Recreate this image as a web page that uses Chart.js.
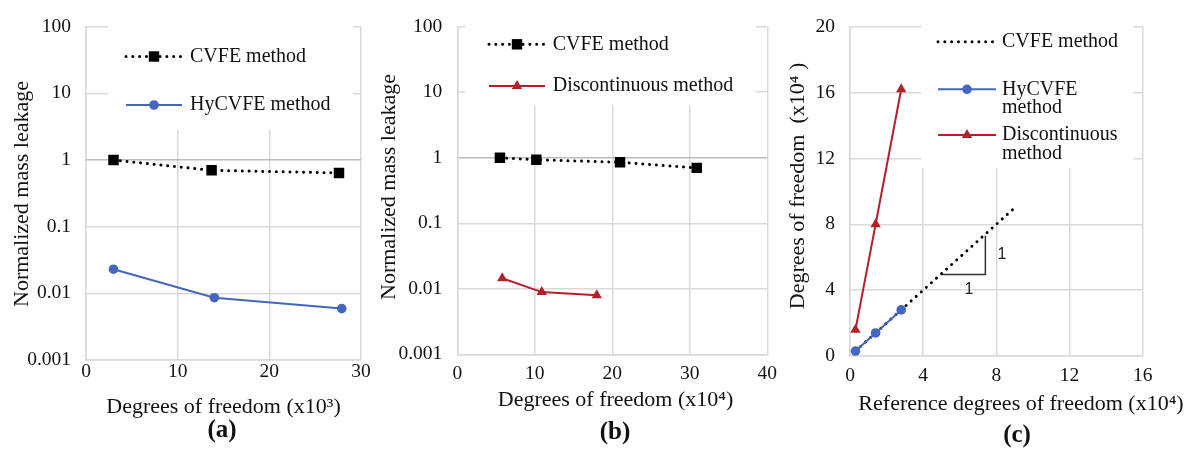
<!DOCTYPE html>
<html>
<head>
<meta charset="utf-8">
<script src="https://cdn.jsdelivr.net/npm/chart.js@4.4.1/dist/chart.umd.min.js"></script>
<style>
  html, body { margin: 0; padding: 0; background: #fff; }
  #wrap { position: relative; width: 1198px; height: 454px; overflow: hidden; }
  canvas { position: absolute; top: 0; }
</style>
</head>
<body>
<div id="wrap">
  <canvas id="chartA" width="372" height="454" style="left:0px"></canvas>
  <canvas id="chartB" width="413" height="454" style="left:372px"></canvas>
  <canvas id="chartC" width="413" height="454" style="left:785px"></canvas>
</div>
<script>
// (a) mass leakage vs dof (x10^3)
const dofCvfeA = [3, 13.7, 27.6];
const cvfeA = [1.0, 0.70, 0.64];
const dofHyA = [3, 14, 27.9];
const hycvfeA = [0.023, 0.0086, 0.0059];

// (b) mass leakage vs dof (x10^4)
const dofCvfeB = [5.5, 10.2, 21, 30.9];
const cvfeB = [1.0, 0.93, 0.855, 0.70];
const dofDiscB = [5.8, 10.9, 18];
const discB = [0.0145, 0.0089, 0.008];

// (c) dof vs reference dof (x10^4)
const refDofC = [0.3, 1.4, 2.8];
const hycvfeC = [0.3, 1.4, 2.8];
const discC = [1.6, 8.0, 16.2];
const refCvfeC = [0.3, 8.9];
const cvfeC = [0.3, 8.9];
const slopeX = [5.0, 7.4, 7.4];
const slopeY = [4.95, 4.95, 7.3];

const logTicks = [0.001, 0.01, 0.1, 1, 10, 100];
const logTickLabels = ['0.001', '0.01', '0.1', '1', '10', '100'];

const GRID = '#d9d9d9';
const BLUE = '#4466c0';
const RED = '#b3202a';
const TXT = '#111';
const SERIF = '"Liberation Serif", "Times New Roman", serif';

Chart.defaults.font.family = SERIF;
Chart.defaults.font.size = 19.5;
Chart.defaults.color = TXT;

const pts = (xs, ys) => xs.map((x, i) => ({ x: x, y: ys[i] }));

const dotted = { borderColor: '#000', borderWidth: 3, borderDash: [0.01, 6.8], borderCapStyle: 'round' };
const squares = { pointStyle: 'rect', pointRadius: 7.4, pointBackgroundColor: '#000', pointBorderWidth: 0 };
const circles = { pointStyle: 'circle', pointRadius: 4.8, pointBackgroundColor: BLUE, pointBorderWidth: 0 };
const triangles = { pointStyle: 'triangle', pointRadius: 6, pointBackgroundColor: RED, pointBorderWidth: 0 };

function drawMarker(ctx, type, x, y, color) {
  ctx.fillStyle = color;
  ctx.beginPath();
  if (type === 'rect') {
    ctx.rect(x - 5.2, y - 5.2, 10.4, 10.4);
  } else if (type === 'circle') {
    ctx.arc(x, y, 4.8, 0, Math.PI * 2);
  } else if (type === 'triangle') {
    const r = 6;
    ctx.moveTo(x, y - r);
    ctx.lineTo(x + r * Math.cos(Math.PI / 6), y + r / 2);
    ctx.lineTo(x - r * Math.cos(Math.PI / 6), y + r / 2);
    ctx.closePath();
  }
  ctx.fill();
}

// legend box, axis titles and panel labels
function decor(cfg) {
  return {
    id: 'decor',
    beforeDatasetsDraw(chart) {
      const ctx = chart.ctx;
      ctx.save();
      ctx.fillStyle = '#fff';
      ctx.fillRect(cfg.box[0], cfg.box[1], cfg.box[2], cfg.box[3]);
      cfg.legend.forEach(e => {
        ctx.beginPath();
        ctx.strokeStyle = e.color;
        ctx.lineWidth = e.dash ? 3 : 2;
        ctx.setLineDash(e.dash ? [0.01, 6.8] : []);
        ctx.lineCap = e.dash ? 'round' : 'butt';
        ctx.moveTo(e.x0, e.y);
        ctx.lineTo(e.x1, e.y);
        ctx.stroke();
        ctx.setLineDash([]);
        if (e.marker) drawMarker(ctx, e.marker, (e.x0 + e.x1) / 2, e.y, e.color);
        ctx.fillStyle = TXT;
        ctx.font = '20px ' + SERIF;
        ctx.textAlign = 'left';
        ctx.textBaseline = 'middle';
        e.text.forEach((t, i) => ctx.fillText(t, e.tx, e.y + i * 18.5));
      });
      ctx.restore();
    },
    afterDraw(chart) {
      const ctx = chart.ctx;
      ctx.save();
      ctx.fillStyle = TXT;
      ctx.textAlign = 'center';
      ctx.textBaseline = 'middle';
      cfg.texts.forEach(t => {
        ctx.font = t.font;
        ctx.save();
        ctx.translate(t.x, t.y);
        if (t.rot) ctx.rotate(t.rot);
        ctx.fillText(t.text, 0, 0);
        ctx.restore();
      });
      if (cfg.slopeLabels) {
        const sx = chart.scales.x, sy = chart.scales.y;
        ctx.font = '16px "Liberation Sans", Arial, sans-serif';
        ctx.fillStyle = '#222';
        cfg.slopeLabels.forEach(l => ctx.fillText(l.text, sx.getPixelForValue(l.x), sy.getPixelForValue(l.y)));
      }
      ctx.restore();
    }
  };
}

function logY(width) {
  return {
    type: 'logarithmic',
    min: 0.001,
    max: 100,
    afterBuildTicks: s => { s.ticks = logTicks.map(v => ({ value: v })); },
    afterFit: s => { s.width = width; },
    ticks: { padding: 15, callback: (v, i) => logTickLabels[i] },
    grid: { color: c => (c.tick && c.tick.value === 1 ? '#bcbcbc' : GRID), lineWidth: 1.5, drawTicks: false },
    border: { color: GRID, width: 1.5 }
  };
}

function linX(max, step, height, pad) {
  return {
    type: 'linear',
    min: 0,
    max: max,
    afterFit: s => { s.height = height; },
    ticks: { stepSize: step, padding: pad },
    grid: { color: GRID, lineWidth: 1.5, drawTicks: false },
    border: { color: GRID, width: 1.5 }
  };
}

const baseOpts = {
  responsive: false,
  animation: false,
  plugins: { legend: { display: false }, tooltip: { enabled: false } }
};

// ---- (a)
new Chart(document.getElementById('chartA'), {
  type: 'scatter',
  data: {
    datasets: [
      Object.assign({ data: pts(dofHyA, hycvfeA), showLine: true, borderColor: BLUE, borderWidth: 2, order: 0 }, circles),
      Object.assign({ data: pts(dofCvfeA, cvfeA), showLine: true, order: 1 }, dotted, squares)
    ]
  },
  options: Object.assign({}, baseOpts, {
    layout: { padding: { left: 0, right: 11, top: 17, bottom: 0 } },
    scales: { x: linX(30, 10, 94, 0), y: logY(86) }
  }),
  plugins: [decor({
    box: [108, 18.5, 245, 111.5],
    legend: [
      { x0: 126, x1: 182, y: 56.5, color: '#000', dash: true, marker: 'rect', tx: 190, text: ['CVFE method'] },
      { x0: 126, x1: 182, y: 105, color: BLUE, marker: 'circle', tx: 190, text: ['HyCVFE method'] }
    ],
    texts: [
      { text: 'Degrees of freedom (x10³)', x: 223.5, y: 407, font: '22px ' + SERIF },
      { text: '(a)', x: 222, y: 431, font: 'bold 25px ' + SERIF },
      { text: 'Normalized mass leakage', x: 22, y: 194, rot: -Math.PI / 2, font: '22px ' + SERIF }
    ]
  })]
});

// ---- (b)
new Chart(document.getElementById('chartB'), {
  type: 'scatter',
  data: {
    datasets: [
      Object.assign({ data: pts(dofDiscB, discB), showLine: true, borderColor: RED, borderWidth: 2, order: 0 }, triangles),
      Object.assign({ data: pts(dofCvfeB, cvfeB), showLine: true, order: 1 }, dotted, squares)
    ]
  },
  options: Object.assign({}, baseOpts, {
    layout: { padding: { left: 0, right: 10.7, top: 17, bottom: 0 } },
    scales: { x: linX(40, 10, 99.7, 8), y: logY(85.3) }
  }),
  plugins: [decor({
    box: [93, 18.5, 291, 86.5],
    legend: [
      { x0: 117, x1: 173, y: 44.3, color: '#000', dash: true, marker: 'rect', tx: 180.7, text: ['CVFE method'] },
      { x0: 117, x1: 173, y: 86, color: RED, marker: 'triangle', tx: 180.7, text: ['Discontinuous method'] }
    ],
    texts: [
      { text: 'Degrees of freedom (x10⁴)', x: 243.5, y: 400, font: '22px ' + SERIF },
      { text: '(b)', x: 243, y: 433, font: 'bold 25px ' + SERIF },
      { text: 'Normalized mass leakage', x: 17, y: 187, rot: -Math.PI / 2, font: '22px ' + SERIF }
    ]
  })]
});

// ---- (c)
new Chart(document.getElementById('chartC'), {
  type: 'scatter',
  data: {
    datasets: [
      Object.assign({ data: pts(refDofC, hycvfeC), showLine: true, borderColor: BLUE, borderWidth: 2, order: 0 }, circles),
      Object.assign({ data: pts(refDofC, discC), showLine: true, borderColor: RED, borderWidth: 2, order: 1 }, triangles),
      Object.assign({ data: pts(refCvfeC, cvfeC), showLine: true, pointRadius: 0, order: 2 }, dotted),
      { data: pts(slopeX, slopeY), showLine: true, borderColor: '#333', borderWidth: 1.5, pointRadius: 0, order: 3 }
    ]
  },
  options: Object.assign({}, baseOpts, {
    layout: { padding: { left: 0, right: 55.3, top: 14.3, bottom: 0 } },
    scales: {
      x: linX(16, 4, 98, 8),
      y: {
        type: 'linear', min: 0, max: 20,
        afterFit: s => { s.width = 65; },
        ticks: { stepSize: 4, padding: 15 },
        grid: { color: GRID, lineWidth: 1.5, drawTicks: false },
        border: { color: GRID, width: 1.5 }
      }
    }
  }),
  plugins: [decor({
    box: [136, 15.5, 212, 152.5],
    legend: [
      { x0: 153, x1: 209, y: 41.7, color: '#000', dash: true, tx: 217, text: ['CVFE method'] },
      { x0: 153, x1: 211, y: 89.3, color: BLUE, marker: 'circle', tx: 217, text: ['HyCVFE', 'method'] },
      { x0: 153, x1: 211, y: 135, color: RED, marker: 'triangle', tx: 217, text: ['Discontinuous', 'method'] }
    ],
    texts: [
      { text: 'Reference degrees of freedom (x10⁴)', x: 236, y: 404, font: '22px ' + SERIF },
      { text: '(c)', x: 232, y: 436, font: 'bold 25px ' + SERIF },
      { text: 'Degrees of freedom  (x10⁴ )', x: 13, y: 186, rot: -Math.PI / 2, font: '22px ' + SERIF }
    ],
    slopeLabels: [
      { text: '1', x: 6.5, y: 4.04 },
      { text: '1', x: 8.3, y: 6.17 }
    ]
  })]
});
</script>
</body>
</html>
